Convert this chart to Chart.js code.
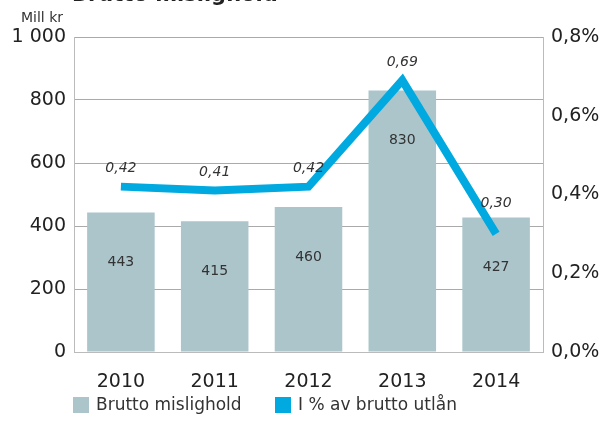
<!DOCTYPE html>
<html>
<head>
<meta charset="utf-8">
<script src="https://cdn.jsdelivr.net/npm/chart.js"></script>
<style>
  html, body { margin: 0; padding: 0; background: #fff; }
  #wrap { width: 600px; height: 421px; position: relative; }
</style>
</head>
<body>
<div id="wrap"><canvas id="chart"></canvas></div>
<script>
// chart data
const years = ['2010', '2011', '2012', '2013', '2014'];
const mislighold = [443, 415, 460, 830, 427];      // Mill kr
const andelUtlan = [0.42, 0.41, 0.42, 0.69, 0.30]; // %
const leftTicks = [0, 200, 400, 600, 800, 1000];
const rightTicks = [0, 0.2, 0.4, 0.6, 0.8];

const FONT = 'DejaVu Sans';
const BAR_COLOR = '#abc5cb';
const LINE_COLOR = '#00a9e0';
const fmtThousand = v => String(v).replace(/\B(?=(\d{3})+(?!\d))/g, ' ');
const fmtComma = (v, d) => v.toFixed(d).replace('.', ',');

// draws the cut-off title, unit label, value labels and legend
const extras = {
    id: 'extras',
    afterDatasetsDraw(chart) {
        const ctx = chart.ctx;
        ctx.save();
        ctx.fillStyle = '#222';
        ctx.font = 'bold 21px ' + FONT;
        ctx.textAlign = 'left';
        ctx.textBaseline = 'alphabetic';
        ctx.fillText('Brutto mislighold', 72, 1);

        ctx.fillStyle = '#333';
        ctx.font = '14px ' + FONT;
        ctx.textAlign = 'right';
        ctx.fillText('Mill kr', 63, 22);

        // bar values
        const bars = chart.getDatasetMeta(0).data;
        ctx.font = '14px ' + FONT;
        ctx.textAlign = 'center';
        ctx.textBaseline = 'middle';
        ctx.fillStyle = '#333';
        bars.forEach((b, i) => {
            ctx.fillText(fmtThousand(mislighold[i]), b.x, b.y + 50);
        });

        // line values, kept clear of the bar top
        const pts = chart.getDatasetMeta(1).data;
        ctx.font = 'italic 14px ' + FONT;
        pts.forEach((p, i) => {
            const y = Math.min(p.y - 18, bars[i].y - 14);
            ctx.fillText(fmtComma(andelUtlan[i], 2), p.x, y);
        });

        // legend
        const items = [
            { x: 73, color: BAR_COLOR, text: chart.data.datasets[0].label },
            { x: 275, color: LINE_COLOR, text: chart.data.datasets[1].label }
        ];
        ctx.font = '17px ' + FONT;
        ctx.textAlign = 'left';
        ctx.textBaseline = 'middle';
        items.forEach(it => {
            ctx.fillStyle = it.color;
            ctx.fillRect(it.x, 397, 16, 16);
            ctx.fillStyle = '#333';
            ctx.fillText(it.text, it.x + 23, 406);
        });
        ctx.restore();
    }
};

new Chart(document.getElementById('chart'), {
    type: 'bar',
    data: {
        labels: years,
        datasets: [
            {
                label: 'Brutto mislighold',
                data: mislighold,
                yAxisID: 'y',
                backgroundColor: BAR_COLOR,
                categoryPercentage: 1,
                barPercentage: 0.72,
                order: 1
            },
            {
                type: 'line',
                label: 'I % av brutto utlån',
                data: andelUtlan,
                yAxisID: 'y2',
                borderColor: LINE_COLOR,
                backgroundColor: LINE_COLOR,
                borderWidth: 8,
                tension: 0,
                pointRadius: 0,
                borderJoinStyle: 'miter',
                order: 0
            }
        ]
    },
    options: {
        responsive: true,
        maintainAspectRatio: false,
        animation: false,
        layout: { padding: { top: 37, left: 0, right: 0, bottom: 0 } },
        plugins: {
            legend: { display: false },
            tooltip: { enabled: false }
        },
        scales: {
            x: {
                grid: { display: false },
                border: { color: '#bbb' },
                afterFit: s => { s.height = 69; },
                ticks: { font: { family: FONT, size: 19 }, color: '#222', padding: 11 }
            },
            y: {
                position: 'left',
                min: 0, max: 1000,
                afterBuildTicks: s => { s.ticks = leftTicks.map(v => ({ value: v })); },
                afterFit: s => { s.width = 74; },
                grid: { color: '#aaa', drawTicks: false },
                border: { color: '#bbb' },
                ticks: {
                    font: { family: FONT, size: 19 }, color: '#222', padding: 8,
                    callback: v => fmtThousand(v)
                }
            },
            y2: {
                position: 'right',
                min: 0, max: 0.8,
                afterBuildTicks: s => { s.ticks = rightTicks.map(v => ({ value: v })); },
                afterFit: s => { s.width = 57; },
                grid: { display: false, drawTicks: false },
                border: { color: '#bbb' },
                ticks: {
                    font: { family: FONT, size: 19 }, color: '#222', padding: 8,
                    callback: v => fmtComma(v, 1) + '%'
                }
            }
        }
    },
    plugins: [extras]
});
</script>
</body>
</html>
